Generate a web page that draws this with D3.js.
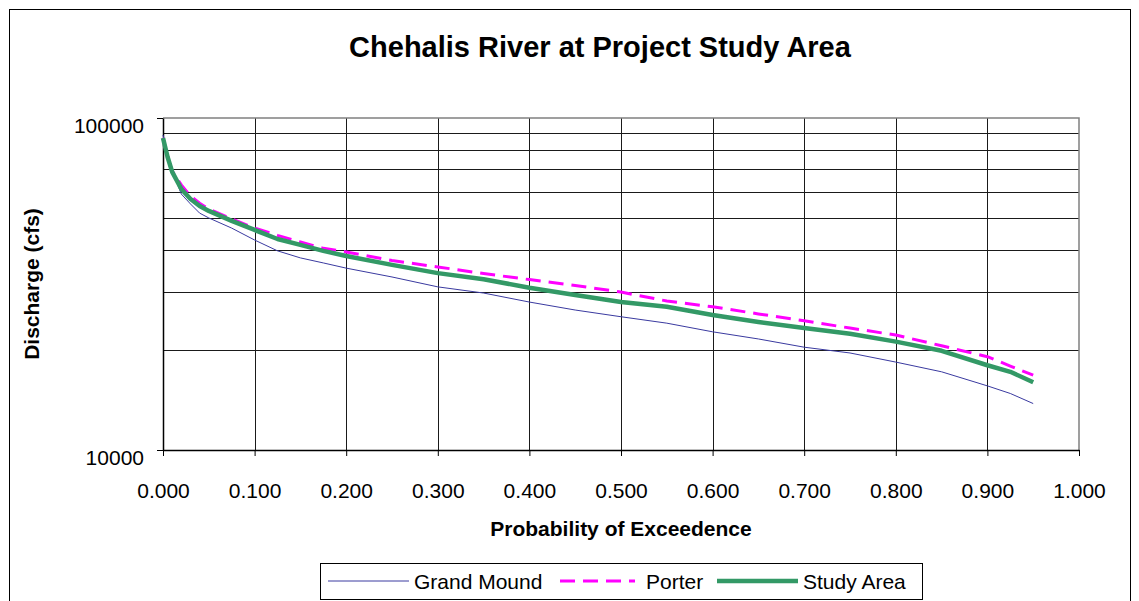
<!DOCTYPE html>
<html>
<head>
<meta charset="utf-8">
<script src="https://cdn.jsdelivr.net/npm/d3@7"></script>
<style>
  html, body { margin: 0; padding: 0; background: #fff; }
  svg { display: block; font-family: Arial, "Liberation Sans", sans-serif; }
</style>
</head>
<body>
<svg id="chart" width="1139" height="601"></svg>
<script>
// Exceedance probabilities shared by all three flow-duration curves
const probability = [0, 0.005, 0.01, 0.02, 0.03, 0.04, 0.05, 0.075, 0.1, 0.125, 0.15, 0.175, 0.2,
  0.25, 0.3, 0.35, 0.4, 0.45, 0.5, 0.55, 0.6, 0.65, 0.7, 0.75, 0.8, 0.85, 0.9, 0.925, 0.95];

// Discharge (cfs) for each gauge / location
const grandMound = [88900, 77400, 69300, 59000, 55100, 51700, 50000, 46600, 42900, 39800, 37900, 36600, 35300,
  33200, 31000, 29700, 27900, 26400, 25200, 24100, 22700, 21600, 20400, 19600, 18400, 17200, 15600, 14800, 13800];
const porter = [87100, 76300, 69300, 62900, 58200, 55400, 53200, 49700, 46600, 44300, 42300, 40500, 39500,
  37200, 35600, 34000, 32600, 31300, 29900, 28100, 27000, 25700, 24500, 23300, 22200, 20600, 19100, 17900, 16800];
const studyArea = [87100, 76300, 68800, 61100, 57000, 54300, 52500, 49000, 46000, 43200, 41500, 39800, 38400,
  36100, 34100, 32700, 30800, 29300, 27900, 27000, 25500, 24300, 23300, 22400, 21200, 19900, 18000, 17200, 16000];

const xTicks = [0, 0.1, 0.2, 0.3, 0.4, 0.5, 0.6, 0.7, 0.8, 0.9, 1.0];
const yGrid = [20000, 30000, 40000, 50000, 60000, 70000, 80000, 90000];
const yLabels = [10000, 100000];

const seriesNames = ["Grand Mound", "Porter", "Study Area"];
const seriesStyles = [
  { color: "#3a3aa0", width: 1, dash: null },
  { color: "#ff00ff", width: 3, dash: "15,8" },
  { color: "#339966", width: 4.5, dash: null }
];
const seriesValues = [grandMound, porter, studyArea];

const svg = d3.select("#chart");
const plot = { left: 163, right: 1079, top: 118, bottom: 450 };

const x = d3.scaleLinear().domain([0, 1]).range([plot.left, plot.right]);
const y = d3.scaleLog().domain([10000, 100000]).range([plot.bottom, plot.top]);
const snap = v => Math.round(v) + 0.5;

// Outer chart frame
svg.append("rect")
  .attr("x", 9.5).attr("y", 9.5).attr("width", 1121).attr("height", 600)
  .attr("fill", "#fff").attr("stroke", "#000").attr("stroke-width", 1);

// Title
svg.append("text")
  .attr("x", 600).attr("y", 57)
  .attr("text-anchor", "middle")
  .attr("font-size", 29).attr("font-weight", "bold")
  .text("Chehalis River at Project Study Area");

// Gridlines
const grid = svg.append("g");
grid.selectAll("line.h").data(yGrid).join("line")
  .attr("x1", plot.left).attr("x2", plot.right)
  .attr("y1", d => snap(y(d))).attr("y2", d => snap(y(d)))
  .attr("stroke", "#1a1a1a").attr("stroke-width", 1);
grid.selectAll("line.v").data(xTicks.slice(1, -1)).join("line")
  .attr("x1", d => snap(x(d))).attr("x2", d => snap(x(d)))
  .attr("y1", plot.top).attr("y2", plot.bottom)
  .attr("stroke", "#1a1a1a").attr("stroke-width", 1);

// Plot area border (top and right)
svg.append("path")
  .attr("d", `M${plot.left},${plot.top}H${plot.right}V${plot.bottom}`)
  .attr("fill", "none").attr("stroke", "#808080").attr("stroke-width", 1.5);

// X axis
const xAxis = d3.axisBottom(x).tickValues(xTicks).tickFormat(d3.format(".3f"))
  .tickSizeInner(6).tickSizeOuter(0).tickPadding(25);
const gx = svg.append("g").attr("transform", `translate(0,${plot.bottom})`).call(xAxis);
gx.selectAll("text").attr("font-size", 21).attr("fill", "#000").attr("dy", null).attr("y", 48);
gx.selectAll("line").attr("stroke", "#000");
gx.select(".domain").attr("stroke", "#000").attr("stroke-width", 1.5);

// Y axis (log scale, labels only at the decades)
const yAxis = d3.axisLeft(y).tickValues(yLabels).tickFormat(d3.format("d"))
  .tickSizeInner(6).tickSizeOuter(0).tickPadding(13);
const gy = svg.append("g").attr("transform", `translate(${plot.left},0)`).call(yAxis);
gy.selectAll("text").attr("font-size", 21).attr("fill", "#000").attr("dy", "0.32em")
  .attr("transform", "translate(0,8)");
gy.selectAll("line").attr("stroke", "#000");
gy.select(".domain").attr("stroke", "#000").attr("stroke-width", 1.5);

// Axis titles
svg.append("text")
  .attr("x", x(0.5)).attr("y", 536)
  .attr("text-anchor", "middle")
  .attr("font-size", 21).attr("font-weight", "bold")
  .text("Probability of Exceedence");
svg.append("text")
  .attr("transform", `translate(39,${(plot.top + plot.bottom) / 2}) rotate(-90)`)
  .attr("text-anchor", "middle")
  .attr("font-size", 21).attr("font-weight", "bold")
  .text("Discharge (cfs)");

// Flow-duration curves
const line = d3.line().x(d => x(d[0])).y(d => y(d[1]));
const curves = svg.append("g");
seriesValues.forEach((vals, i) => {
  const s = seriesStyles[i];
  curves.append("path")
    .datum(probability.map((p, j) => [p, vals[j]]))
    .attr("d", line)
    .attr("fill", "none")
    .attr("stroke", s.color)
    .attr("stroke-width", s.width)
    .attr("stroke-dasharray", s.dash)
    .attr("stroke-linejoin", "round");
});

// Legend
const legend = svg.append("g");
legend.append("rect")
  .attr("x", 320.5).attr("y", 563.5).attr("width", 602).attr("height", 36)
  .attr("fill", "#fff").attr("stroke", "#000").attr("stroke-width", 1);
const legendItems = [
  { x1: 328, x2: 409, tx: 414 },
  { x1: 560, x2: 635, tx: 646 },
  { x1: 717, x2: 798, tx: 803 }
];
legendItems.forEach((it, i) => {
  const s = seriesStyles[i];
  legend.append("line")
    .attr("x1", it.x1).attr("x2", it.x2).attr("y1", 581).attr("y2", 581)
    .attr("stroke", s.color).attr("stroke-width", s.width)
    .attr("stroke-dasharray", s.dash);
  legend.append("text")
    .attr("x", it.tx).attr("y", 589)
    .attr("font-size", 21)
    .text(seriesNames[i]);
});
</script>
</body>
</html>
